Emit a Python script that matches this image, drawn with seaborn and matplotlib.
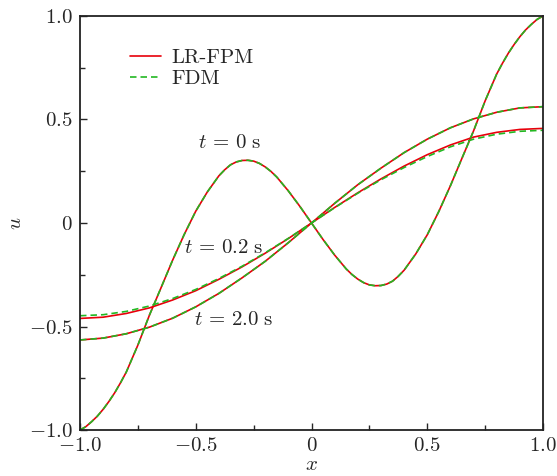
import numpy as np
import pandas as pd
import matplotlib
matplotlib.use("Agg")
import matplotlib.pyplot as plt
from matplotlib.lines import Line2D
from matplotlib.ticker import MultipleLocator, FuncFormatter
import seaborn as sns

# Values
x_fine = [-1.0, -0.975, -0.95, -0.925, -0.9, -0.875, -0.85, -0.825, -0.8, -0.75, -0.7, -0.65,
          -0.6, -0.55, -0.5, -0.45, -0.4, -0.375, -0.35, -0.325, -0.3, -0.275, -0.25, -0.225,
          -0.2, -0.175, -0.15, -0.1, -0.05, 0.0,
          0.05, 0.1, 0.15, 0.175, 0.2, 0.225, 0.25, 0.275, 0.3, 0.325, 0.35, 0.375, 0.4,
          0.45, 0.5, 0.55, 0.6, 0.65, 0.7, 0.75, 0.8, 0.825, 0.85, 0.875, 0.9, 0.925,
          0.95, 0.975, 1.0]
u_t0 = [-1.0, -0.984, -0.96, -0.933, -0.90, -0.862, -0.82, -0.772, -0.72, -0.59, -0.445, -0.313,
        -0.18, -0.056, 0.057, 0.15, 0.228, 0.257, 0.281, 0.295, 0.302, 0.303, 0.299, 0.288,
        0.271, 0.249, 0.222, 0.155, 0.08, 0.0,
        -0.08, -0.155, -0.222, -0.249, -0.271, -0.288, -0.299, -0.303, -0.302, -0.295, -0.281, -0.257, -0.228,
        -0.15, -0.057, 0.056, 0.18, 0.313, 0.445, 0.59, 0.72, 0.772, 0.82, 0.862, 0.90, 0.933,
        0.96, 0.984, 1.0]

x_coarse = [-1.0, -0.9, -0.8, -0.7, -0.6, -0.5, -0.4, -0.3, -0.2, -0.1, 0.0,
            0.1, 0.2, 0.3, 0.4, 0.5, 0.6, 0.7, 0.8, 0.9, 1.0]
u_t02_fpm = [-0.461, -0.455, -0.437, -0.41, -0.372, -0.327, -0.272, -0.212, -0.146, -0.075, 0.0,
             0.075, 0.146, 0.213, 0.275, 0.33, 0.377, 0.415, 0.438, 0.452, 0.457]
u_t02_fdm = [-0.448, -0.443, -0.427, -0.401, -0.365, -0.321, -0.268, -0.209, -0.144, -0.074, 0.0,
             0.074, 0.144, 0.209, 0.268, 0.321, 0.368, 0.405, 0.429, 0.443, 0.448]
u_t2 = [-0.565, -0.556, -0.535, -0.503, -0.46, -0.405, -0.34, -0.265, -0.185, -0.095, 0.0,
        0.095, 0.185, 0.265, 0.34, 0.405, 0.46, 0.503, 0.535, 0.556, 0.562]

methods = ["LR-FPM", "FDM"]
colors = {"LR-FPM": "#e8000b", "FDM": "#22b822"}
fs = 15

frames = []
for m in methods:
    frames.append(pd.DataFrame({"x": x_fine, "u": u_t0, "method": m, "time": "0"}))
    frames.append(pd.DataFrame({"x": x_coarse, "u": u_t02_fpm if m == "LR-FPM" else u_t02_fdm,
                                "method": m, "time": "0.2"}))
    frames.append(pd.DataFrame({"x": x_coarse, "u": u_t2, "method": m, "time": "2.0"}))
df = pd.concat(frames, ignore_index=True)

sns.set_style("ticks")
plt.rcParams.update({
    "font.family": "serif",
    "font.serif": ["cmr10", "DejaVu Serif"],
    "mathtext.fontset": "cm",
    "axes.formatter.use_mathtext": True,
    "axes.unicode_minus": False,
})

fig = plt.figure(figsize=(5.57, 4.76), dpi=100)
ax = fig.add_axes([0.1436, 0.0966, 0.8313, 0.8698])

sns.lineplot(data=df, x="x", y="u", hue="method", style="method", units="time",
             estimator=None, sort=False, hue_order=methods, style_order=methods,
             palette=colors, dashes={"LR-FPM": "", "FDM": (3.9, 2.4)},
             linewidth=1.2, legend=False, ax=ax)

ax.set_xlim(-1, 1)
ax.set_ylim(-1, 1)
for axis in (ax.xaxis, ax.yaxis):
    axis.set_major_locator(MultipleLocator(0.5))
    axis.set_minor_locator(MultipleLocator(0.25))
    axis.set_major_formatter(FuncFormatter(lambda v, p: "$0$" if abs(v) < 1e-9 else f"${v:.1f}$"))
ax.tick_params(which="both", direction="in", top=False, right=False, width=1.0,
               labelsize=fs, pad=5)
ax.tick_params(which="major", length=5)
ax.tick_params(which="minor", length=3.5)
for s in ax.spines.values():
    s.set_linewidth(1.3)
    s.set_color("#222222")

ax.set_xlabel("$x$", fontsize=fs, labelpad=1)
ax.set_ylabel("$u$", fontsize=fs, labelpad=3)

ax.text(-0.352, 0.385, r"$t\,=\,0\ \mathrm{s}$", fontsize=fs, ha="center", va="center")
ax.text(-0.381, -0.122, r"$t\,=\,0.2\ \mathrm{s}$", fontsize=fs, ha="center", va="center")
ax.text(-0.336, -0.469, r"$t\,=\,2.0\ \mathrm{s}$", fontsize=fs, ha="center", va="center")

handles = [Line2D([], [], color=colors["LR-FPM"], lw=1.2),
           Line2D([], [], color=colors["FDM"], lw=1.2, dashes=(3.9, 2.4))]
ax.legend(handles, methods, loc="upper left", bbox_to_anchor=(0.108, 0.922),
          frameon=False, fontsize=fs, borderpad=0, borderaxespad=0,
          handlelength=1.5, handletextpad=0.5, labelspacing=0.12)

fig.savefig("out.png", dpi=100)
